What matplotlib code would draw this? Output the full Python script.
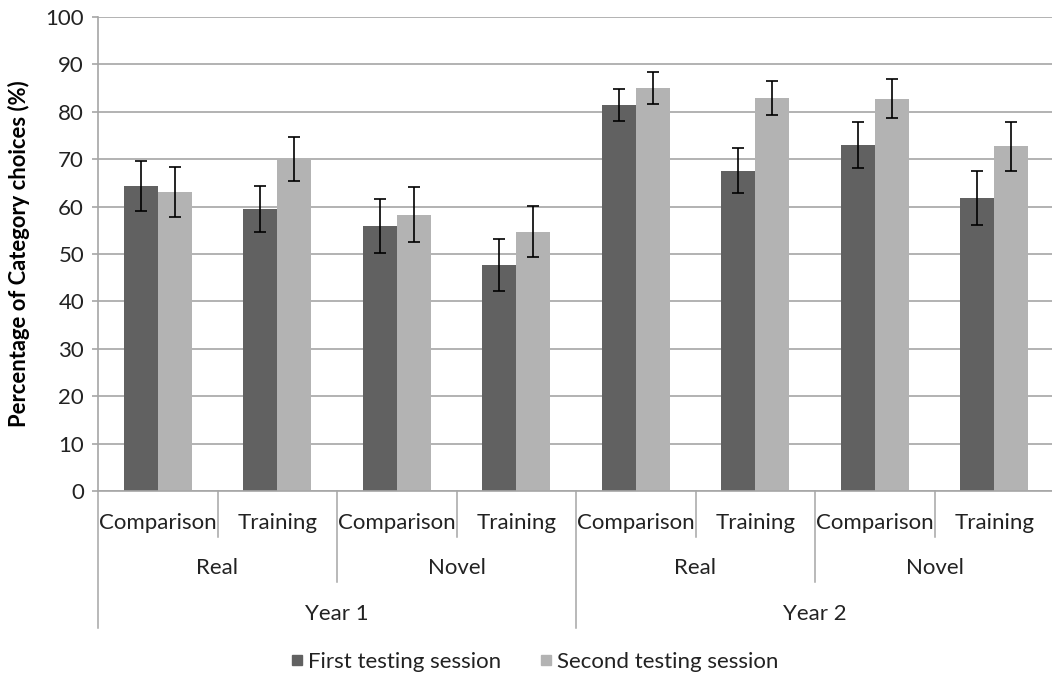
import matplotlib
matplotlib.use("Agg")
import matplotlib.pyplot as plt
from matplotlib.lines import Line2D
import numpy as np

# Conditions, ordered left to right: year > word type > condition
conditions = ["Comparison", "Training"] * 4
word_types = ["Real", "Novel", "Real", "Novel"]
years = ["Year 1", "Year 2"]

# Mean percentage of category choices and error bar half-widths
first_session = [64.3, 59.5, 55.9, 47.7, 81.4, 67.6, 73.0, 61.9]
first_err = [5.3, 4.8, 5.7, 5.5, 3.4, 4.8, 4.9, 5.7]
second_session = [63.1, 70.0, 58.3, 54.7, 85.1, 83.0, 82.8, 72.7]
second_err = [5.3, 4.7, 5.8, 5.4, 3.4, 3.6, 4.2, 5.1]

series_labels = ["First testing session", "Second testing session"]
y_ticks = list(range(0, 101, 10))

DARK = "#616161"
LIGHT = "#b3b3b3"
GRID = "#a6a6a6"
TEXT = "#222222"
FONT = ["Lato", "DejaVu Sans"]
FS = 16

plt.rcParams["font.family"] = FONT

W, H = 1052, 680
fig = plt.figure(figsize=(W / 100, H / 100), dpi=100)

# axes box in pixel units
left_px, right_px, top_px, bottom_px = 98, 1054, 17, 491
ax = fig.add_axes([left_px / W, 1 - bottom_px / H,
                   (right_px - left_px) / W, (bottom_px - top_px) / H])

n = len(conditions)
centers = np.arange(n) + 0.5
bw = 0.285

ax.bar(centers - bw / 2, first_session, width=bw, color=DARK, zorder=2)
ax.bar(centers + bw / 2, second_session, width=bw, color=LIGHT, zorder=2)
err_kw = dict(fmt="none", ecolor="black", elinewidth=1.2, capsize=4.2,
              capthick=1.2, zorder=3)
ax.errorbar(centers - bw / 2, first_session, yerr=first_err, **err_kw)
ax.errorbar(centers + bw / 2, second_session, yerr=second_err, **err_kw)

ax.set_xlim(0, n)
ax.set_ylim(0, 100)
ax.set_yticks(y_ticks)
ax.set_yticklabels([str(t) for t in y_ticks], fontsize=FS, color=TEXT)
ax.set_xticks([])
ax.yaxis.grid(True, color=GRID, linewidth=1.2, zorder=0)
ax.set_axisbelow(True)
for s in ["top", "right"]:
    ax.spines[s].set_visible(False)
for s in ["left", "bottom"]:
    ax.spines[s].set_color(GRID)
    ax.spines[s].set_linewidth(1.2)
ax.tick_params(axis="y", length=4, color=GRID, width=1.2, pad=6)

# hierarchical category axis
trans = ax.get_xaxis_transform()
span = bottom_px - top_px


def ay(px):
    return (bottom_px - px) / span


def vline(x, y_end_px):
    ax.plot([x, x], [0, ay(y_end_px)], color=GRID, lw=1.1,
            transform=trans, clip_on=False)


for i in range(n):
    ax.text(centers[i], ay(523), conditions[i], ha="center", va="center",
            fontsize=FS, color=TEXT, transform=trans)
for x in [1, 3, 5, 7]:
    vline(x, 537)
for j, wt in enumerate(word_types):
    ax.text(2 * j + 1, ay(568), wt, ha="center", va="center",
            fontsize=FS, color=TEXT, transform=trans)
for x in [2, 6]:
    vline(x, 582)
for k, yr in enumerate(years):
    ax.text(4 * k + 2, ay(614), yr, ha="center", va="center",
            fontsize=FS, color=TEXT, transform=trans)
for x in [0, 4, 8]:
    vline(x, 628)

fig.text(19 / W, 1 - 254 / H, "Percentage of Category choices (%)",
         rotation=90, ha="center", va="center", fontsize=15.8,
         fontweight="bold", color="black")

handles = [Line2D([], [], marker="s", linestyle="none", markersize=7,
                  markerfacecolor=c, markeredgecolor=c)
           for c in (DARK, LIGHT)]
fig.legend(handles, series_labels, loc="center", ncol=2,
           bbox_to_anchor=(533 / W, 1 - 662 / H), frameon=False,
           fontsize=FS, handletextpad=0.1, columnspacing=1.6,
           handlelength=0.8, labelcolor=TEXT)

fig.savefig("out.png", dpi=100)
